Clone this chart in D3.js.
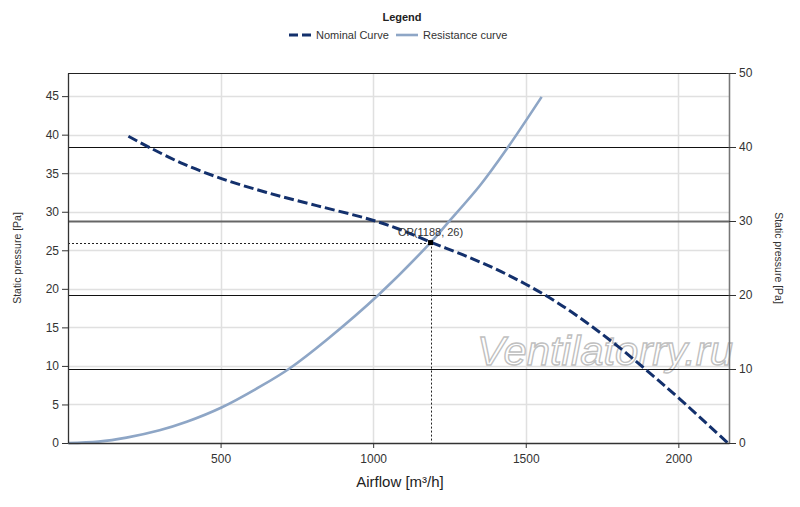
<!DOCTYPE html>
<html><head><meta charset="utf-8">
<script src="https://cdn.jsdelivr.net/npm/d3@7"></script>
<style>body{margin:0;background:#fff}svg{display:block;font-family:"Liberation Sans",Arial,sans-serif}</style>
</head><body><svg id="c" width="800" height="507"></svg>
<script>
// Data
const nominalFlow = [198, 269, 378, 503, 651, 815, 990, 1088, 1192, 1295, 1400, 1500, 1600, 1700, 1800, 1900, 2005, 2162];
const nominalPressure = [39.8, 38.3, 36.2, 34.3, 32.5, 30.8, 29.0, 27.7, 26.0, 24.4, 22.6, 20.6, 18.3, 15.6, 12.6, 9.3, 5.7, 0];
const resistanceFlow = [0, 100, 192, 300, 389, 503, 629, 727, 848, 1017, 1188, 1241, 1350, 1437, 1552];
const resistancePressure = [0, 0.18, 0.7, 1.65, 2.75, 4.6, 7.3, 9.7, 13.4, 19.2, 26, 28.4, 33.4, 38.1, 44.9];
const opFlow = 1188, opPressure = 26;
const xTicks = [500, 1000, 1500, 2000];
const leftTicks = [0, 5, 10, 15, 20, 25, 30, 35, 40, 45];
const rightTicks = [0, 10, 20, 30, 40, 50];
const legendLabels = ["Nominal Curve", "Resistance curve"];

const W = 800, H = 507;
const m = {l: 68, r: 729, t: 73, b: 443};
const svg = d3.select("#c");
const x = d3.scaleLinear().domain([0, 2166]).range([m.l, m.r]);
const yL = d3.scaleLinear().domain([0, 48]).range([m.b, m.t]);
const yR = d3.scaleLinear().domain([0, 50]).range([m.b, m.t]);
const snap = v => Math.round(v) + 0.5;

// light gridlines
svg.append("g").selectAll("line").data(leftTicks.filter(d => d > 0)).join("line")
  .attr("x1", m.l).attr("x2", m.r).attr("y1", d => snap(yL(d))).attr("y2", d => snap(yL(d)))
  .attr("stroke", "#e0e0e0").attr("stroke-width", 1.5);
svg.append("g").selectAll("line").data(xTicks).join("line")
  .attr("x1", d => snap(x(d))).attr("x2", d => snap(x(d))).attr("y1", m.t).attr("y2", m.b)
  .attr("stroke", "#e0e0e0").attr("stroke-width", 1.5);

// watermark
svg.append("text").attr("x", 477).attr("y", 365)
  .attr("font-size", 40).attr("font-style", "italic")
  .attr("textLength", 256).attr("lengthAdjust", "spacingAndGlyphs")
  .attr("fill", "#fff").attr("stroke", "#c0c0c0").attr("stroke-width", 1.3)
  .text("Ventilatorry.ru");

// right-axis major gridlines
svg.append("g").selectAll("line").data(rightTicks.filter(d => d > 0)).join("line")
  .attr("x1", m.l).attr("x2", m.r).attr("y1", d => snap(yR(d))).attr("y2", d => snap(yR(d)))
  .attr("stroke", d => d === 30 ? "#666" : "#111").attr("stroke-width", d => d === 30 ? 2 : 1);

// OP helper lines
svg.append("line").attr("x1", m.l).attr("x2", x(opFlow)).attr("y1", snap(yL(opPressure))).attr("y2", snap(yL(opPressure)))
  .attr("stroke", "#222").attr("stroke-width", 1).attr("stroke-dasharray", "2,2");
svg.append("line").attr("x1", snap(x(opFlow))).attr("x2", snap(x(opFlow))).attr("y1", yL(opPressure)).attr("y2", m.b)
  .attr("stroke", "#222").attr("stroke-width", 1).attr("stroke-dasharray", "2,2");

// curves
const line = d3.line().x(d => x(d[0])).y(d => yL(d[1])).curve(d3.curveCatmullRom.alpha(0.5));
svg.append("path").datum(resistanceFlow.map((f, i) => [f, resistancePressure[i]]))
  .attr("d", line).attr("fill", "none").attr("stroke", "#8ea6c6").attr("stroke-width", 2.6);
svg.append("path").datum(nominalFlow.map((f, i) => [f, nominalPressure[i]]))
  .attr("d", line).attr("fill", "none").attr("stroke", "#13306c").attr("stroke-width", 3)
  .attr("stroke-dasharray", "10,4");

// OP marker and label
svg.append("rect").attr("x", x(opFlow) - 2.5).attr("y", yL(opPressure) - 2.5).attr("width", 5).attr("height", 5).attr("fill", "#000");
svg.append("text").attr("x", x(opFlow)).attr("y", yL(opPressure) - 7).attr("text-anchor", "middle")
  .attr("font-size", 11).attr("fill", "#333").text(`OP(${opFlow}, ${opPressure})`);

// axes lines
svg.append("line").attr("x1", m.l).attr("x2", m.r).attr("y1", m.t + 0.5).attr("y2", m.t + 0.5).attr("stroke", "#222");
svg.append("line").attr("x1", m.r + 0.5).attr("x2", m.r + 0.5).attr("y1", m.t).attr("y2", m.b).attr("stroke", "#777").attr("stroke-width", 1.3);

const axL = svg.append("g").attr("transform", `translate(${m.l},0)`)
  .call(d3.axisLeft(yL).tickValues(leftTicks).tickSize(6).tickPadding(3).tickSizeOuter(0));
const axR = svg.append("g").attr("transform", `translate(${m.r},0)`)
  .call(d3.axisRight(yR).tickValues(rightTicks).tickSize(7).tickPadding(3).tickSizeOuter(0));
const axB = svg.append("g").attr("transform", `translate(0,${m.b})`)
  .call(d3.axisBottom(x).tickValues(xTicks).tickFormat(d3.format("d")).tickSize(5).tickPadding(6).tickSizeOuter(0));
[axL, axR, axB].forEach(a => {
  a.selectAll("text").attr("font-size", 12).attr("fill", "#333").attr("font-family", "Liberation Sans, Arial, sans-serif");
  a.selectAll("line").attr("stroke", "#333");
  a.select(".domain").attr("stroke", "#333").attr("stroke-width", 1.3);
});
axR.select(".domain").attr("stroke", "#777");

// axis titles
svg.append("text").attr("x", 400).attr("y", 487).attr("text-anchor", "middle")
  .attr("font-size", 15).attr("fill", "#222").text("Airflow [m³/h]");
svg.append("text").attr("transform", "translate(21,258) rotate(-90)").attr("text-anchor", "middle")
  .attr("font-size", 10.5).attr("fill", "#333").text("Static pressure [Pa]");
svg.append("text").attr("transform", "translate(775,258) rotate(90)").attr("text-anchor", "middle")
  .attr("font-size", 10.5).attr("fill", "#333").text("Static pressure [Pa]");

// legend
svg.append("text").attr("x", 402).attr("y", 21).attr("text-anchor", "middle")
  .attr("font-size", 11).attr("font-weight", "bold").attr("fill", "#222").text("Legend");
svg.append("line").attr("x1", 289).attr("x2", 312).attr("y1", 35).attr("y2", 35)
  .attr("stroke", "#13306c").attr("stroke-width", 3).attr("stroke-dasharray", "9,4");
svg.append("text").attr("x", 316).attr("y", 39).attr("font-size", 11).attr("fill", "#333").text(legendLabels[0]);
svg.append("line").attr("x1", 396).attr("x2", 418).attr("y1", 35).attr("y2", 35)
  .attr("stroke", "#8ea6c6").attr("stroke-width", 2.6);
svg.append("text").attr("x", 423).attr("y", 39).attr("font-size", 11).attr("fill", "#333").text(legendLabels[1]);
</script></body></html>
